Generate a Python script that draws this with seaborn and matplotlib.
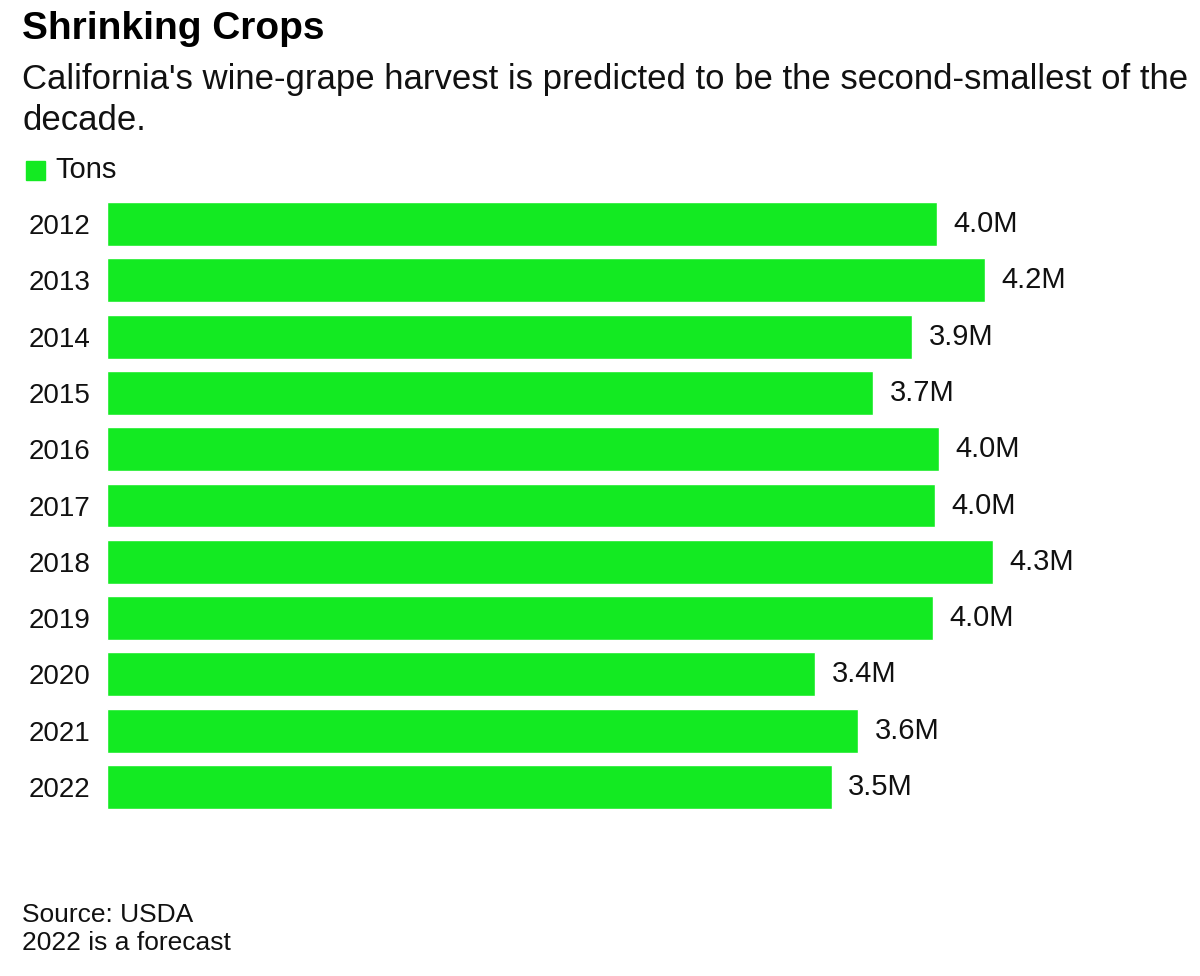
import seaborn as sns
import pandas as pd
import matplotlib.pyplot as plt
from matplotlib.patches import Rectangle

# harvest in millions of tons
years = ['2012', '2013', '2014', '2015', '2016', '2017', '2018', '2019', '2020', '2021', '2022']
tons = [4.01, 4.24, 3.89, 3.70, 4.02, 4.00, 4.28, 3.99, 3.42, 3.63, 3.50]
labels = ['4.0M', '4.2M', '3.9M', '3.7M', '4.0M', '4.0M', '4.3M', '4.0M', '3.4M', '3.6M', '3.5M']

green = '#13ea22'

sns.set_theme(style='white')
plt.rcParams['font.family'] = ['Liberation Sans', 'DejaVu Sans']

df = pd.DataFrame({'Year': years, 'Tons': tons})

fig = plt.figure(figsize=(12, 9.76), dpi=100)
ax = fig.add_axes([107 / 1200, 1 - 815 / 976, (1190 - 107) / 1200, 619 / 976])

sns.barplot(data=df, x='Tons', y='Year', orient='h', color=green, width=0.78,
            saturation=1, ax=ax)

ax.bar_label(ax.containers[0], labels=labels, padding=12, fontsize=21, color='#111111')

ax.set_xlim(0, 1083 / 207)
ax.set_ylim(10.5, -0.5)
ax.set_xlabel('')
ax.set_ylabel('')
ax.set_xticks([])
ax.tick_params(axis='y', length=0, pad=12, labelsize=20, labelcolor='#111111')
sns.despine(ax=ax, left=True, bottom=True)

# titles
fig.text(22 / 1200, 1 - 29 / 976, 'Shrinking Crops', fontsize=28, fontweight='bold',
         va='center', ha='left', color='#000000')
fig.text(22 / 1200, 1 - 79 / 976, "California's wine-grape harvest is predicted to be the second-smallest of the",
         fontsize=25, va='center', ha='left', color='#111111')
fig.text(22 / 1200, 1 - 121 / 976, 'decade.', fontsize=25, va='center', ha='left', color='#111111')

# legend
fig.patches.append(Rectangle((26 / 1200, 1 - 180 / 976), 19 / 1200, 19 / 976,
                             transform=fig.transFigure, color=green))
fig.text(55 / 1200, 1 - 170 / 976, 'Tons', fontsize=21, va='center', ha='left', color='#111111')

# footer
fig.text(22 / 1200, 1 - 915 / 976, 'Source: USDA', fontsize=19, va='center', ha='left', color='#111111')
fig.text(22 / 1200, 1 - 943 / 976, '2022 is a forecast', fontsize=19, va='center', ha='left', color='#111111')

fig.savefig('out.png', dpi=100)
